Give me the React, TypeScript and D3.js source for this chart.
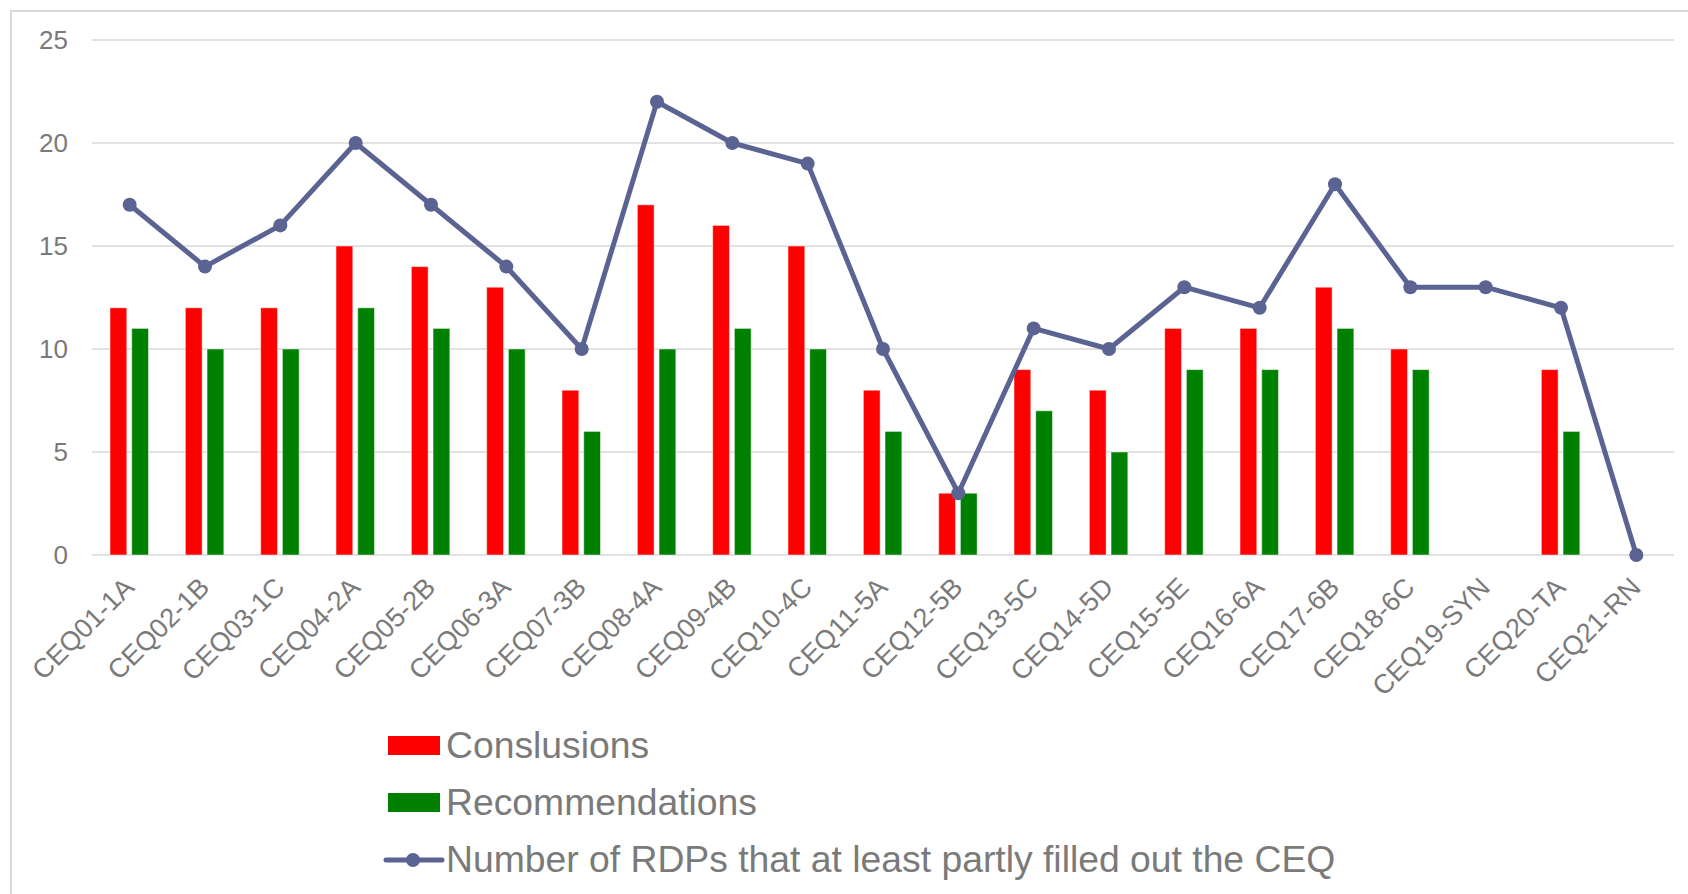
import React from "react";
import * as d3 from "d3";

const categories = [
  "CEQ01-1A", "CEQ02-1B", "CEQ03-1C", "CEQ04-2A", "CEQ05-2B", "CEQ06-3A", "CEQ07-3B",
  "CEQ08-4A", "CEQ09-4B", "CEQ10-4C", "CEQ11-5A", "CEQ12-5B", "CEQ13-5C", "CEQ14-5D",
  "CEQ15-5E", "CEQ16-6A", "CEQ17-6B", "CEQ18-6C", "CEQ19-SYN", "CEQ20-TA", "CEQ21-RN",
];
const conclusions: (number | null)[] = [12, 12, 12, 15, 14, 13, 8, 17, 16, 15, 8, 3, 9, 8, 11, 11, 13, 10, null, 9, null];
const recommendations: (number | null)[] = [11, 10, 10, 12, 11, 10, 6, 10, 11, 10, 6, 3, 7, 5, 9, 9, 11, 9, null, 6, null];
const rdps: number[] = [17, 14, 16, 20, 17, 14, 10, 22, 20, 19, 10, 3, 11, 10, 13, 12, 18, 13, 13, 12, 0];
const yTicks = [0, 5, 10, 15, 20, 25];
const seriesNames = ["Conslusions", "Recommendations", "Number of RDPs that at least partly filled out the CEQ"];

const W = 1688;
const H = 894;
const RED = "#FF0000";
const GREEN = "#008000";
const LINE = "#5A6392";
const TEXT = "#7A7A7A";
const GRID = "#D9D9D9";
const FONT = "Liberation Sans, Arial, sans-serif";

export default function App() {
  const x = d3.scaleBand<string>().domain(categories).range([92, 1674]).padding(0);
  const bw = x.bandwidth();
  const xs = d3.scaleBand<string>().domain(["c", "r"]).range([0.239 * bw, 0.75 * bw]).paddingInner(0.226).paddingOuter(0);
  const y = d3.scaleLinear().domain([0, 25]).range([555, 40]);
  const cx = (c: string) => (x(c) as number) + bw / 2;
  const line = d3.line<number>().x((_, i) => cx(categories[i])).y((d) => y(d));

  return (
    <div style={{ position: "absolute", left: 0, top: 0 }}>
      <svg width={W} height={H} style={{ display: "block", fontFamily: FONT }}>
        <rect x={0} y={0} width={W} height={H} fill="#fff" />
        <rect x={11} y={11} width={W + 20} height={H + 40} fill="none" stroke={GRID} strokeWidth={2} />
        {yTicks.map((t) => (
          <g key={t}>
            <line x1={92} x2={1674} y1={y(t)} y2={y(t)} stroke={GRID} strokeWidth={1.5} />
            <text x={68} y={y(t)} dy="0.36em" textAnchor="end" fontSize={26} fill={TEXT}>{t}</text>
          </g>
        ))}
        {categories.map((c, i) => {
          const x0 = x(c) as number;
          const cv = conclusions[i];
          const rv = recommendations[i];
          return (
            <g key={c}>
              {cv != null && (
                <rect x={x0 + (xs("c") as number)} y={y(cv)} width={xs.bandwidth()} height={y(0) - y(cv)} fill={RED} stroke="#fff" strokeOpacity={0.5} strokeWidth={1} />
              )}
              {rv != null && (
                <rect x={x0 + (xs("r") as number)} y={y(rv)} width={xs.bandwidth()} height={y(0) - y(rv)} fill={GREEN} stroke="#fff" strokeOpacity={0.5} strokeWidth={1} />
              )}
            </g>
          );
        })}
        <path d={line(rdps) || ""} fill="none" stroke={LINE} strokeWidth={5} strokeLinejoin="round" />
        {rdps.map((v, i) => (
          <circle key={i} cx={cx(categories[i])} cy={y(v)} r={7} fill={LINE} />
        ))}
        {categories.map((c) => (
          <text key={c} transform={`translate(${cx(c) + 6},${589}) rotate(-45)`} textAnchor="end" fontSize={27} fill={TEXT}>{c}</text>
        ))}
        <g>
          <rect x={388} y={736} width={52} height={19} fill={RED} />
          <text x={446} y={758} fontSize={37.3} fill={TEXT}>{seriesNames[0]}</text>
          <rect x={388} y={793} width={52} height={19} fill={GREEN} />
          <text x={446} y={815} fontSize={37.3} fill={TEXT}>{seriesNames[1]}</text>
          <line x1={386} x2={442} y1={860} y2={860} stroke={LINE} strokeWidth={5} strokeLinecap="round" />
          <circle cx={413} cy={860} r={7} fill={LINE} />
          <text x={446} y={872} fontSize={37.3} fill={TEXT}>{seriesNames[2]}</text>
        </g>
      </svg>
    </div>
  );
}
